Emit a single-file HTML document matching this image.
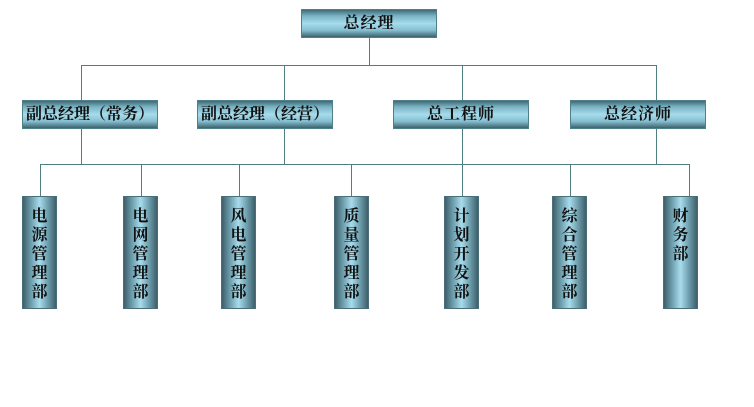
<!DOCTYPE html>
<html><head><meta charset="utf-8"><style>
html,body{margin:0;padding:0;background:#fff}
body{width:754px;height:407px;position:relative;overflow:hidden;font-family:"Liberation Serif","Noto Serif CJK SC","Noto Sans CJK SC",serif}
.h{position:absolute;height:29px;box-sizing:border-box;border:1px solid #4f7f88;
background:linear-gradient(to bottom,#3f6a74 0%,#7bb3c4 22%,#a6dcec 50%,#86bfd0 75%,#3c636e 100%);
font-weight:bold;font-size:16px;color:#111;text-align:center;line-height:28px;letter-spacing:1px}
.v{position:absolute;top:196px;width:35px;height:113px;box-sizing:border-box;border:1px solid #4a6f78;
background:linear-gradient(to right,#3e5f6a 0%,#6e9fae 25%,#a8dcec 50%,#6e9fae 75%,#3e5f6a 100%);
font-weight:bold;font-size:16px;color:#111;text-align:center;line-height:19px;padding-top:10px}
.l{position:absolute;background:#4f7f80}
</style></head><body>
<div class="l" style="left:369px;top:38px;width:1px;height:27px"></div>
<div class="l" style="left:81px;top:65px;width:576px;height:1px"></div>
<div class="l" style="left:81px;top:65px;width:1px;height:35px"></div>
<div class="l" style="left:284px;top:65px;width:1px;height:35px"></div>
<div class="l" style="left:462px;top:65px;width:1px;height:35px"></div>
<div class="l" style="left:656px;top:65px;width:1px;height:35px"></div>
<div class="l" style="left:81px;top:129px;width:1px;height:35px"></div>
<div class="l" style="left:284px;top:129px;width:1px;height:35px"></div>
<div class="l" style="left:462px;top:129px;width:1px;height:35px"></div>
<div class="l" style="left:656px;top:129px;width:1px;height:35px"></div>
<div class="l" style="left:40px;top:164px;width:650px;height:1px"></div>
<div class="l" style="left:40px;top:164px;width:1px;height:32px"></div>
<div class="l" style="left:141px;top:164px;width:1px;height:32px"></div>
<div class="l" style="left:239px;top:164px;width:1px;height:32px"></div>
<div class="l" style="left:351px;top:164px;width:1px;height:32px"></div>
<div class="l" style="left:462px;top:164px;width:1px;height:32px"></div>
<div class="l" style="left:570px;top:164px;width:1px;height:32px"></div>
<div class="l" style="left:689px;top:164px;width:1px;height:32px"></div>

<div class="h" style="left:301px;top:9px;width:136px">总经理</div>
<div class="h" style="left:22px;top:100px;width:136px;letter-spacing:0">副总经理（常务）</div>
<div class="h" style="left:197px;top:100px;width:136px;letter-spacing:0">副总经理（经营）</div>
<div class="h" style="left:393px;top:100px;width:136px">总工程师</div>
<div class="h" style="left:570px;top:100px;width:136px">总经济师</div>

<div class="v" style="left:22px">电<br>源<br>管<br>理<br>部</div>
<div class="v" style="left:123px">电<br>网<br>管<br>理<br>部</div>
<div class="v" style="left:221px">风<br>电<br>管<br>理<br>部</div>
<div class="v" style="left:334px">质<br>量<br>管<br>理<br>部</div>
<div class="v" style="left:444px">计<br>划<br>开<br>发<br>部</div>
<div class="v" style="left:552px">综<br>合<br>管<br>理<br>部</div>
<div class="v" style="left:663px">财<br>务<br>部</div>
</body></html>
